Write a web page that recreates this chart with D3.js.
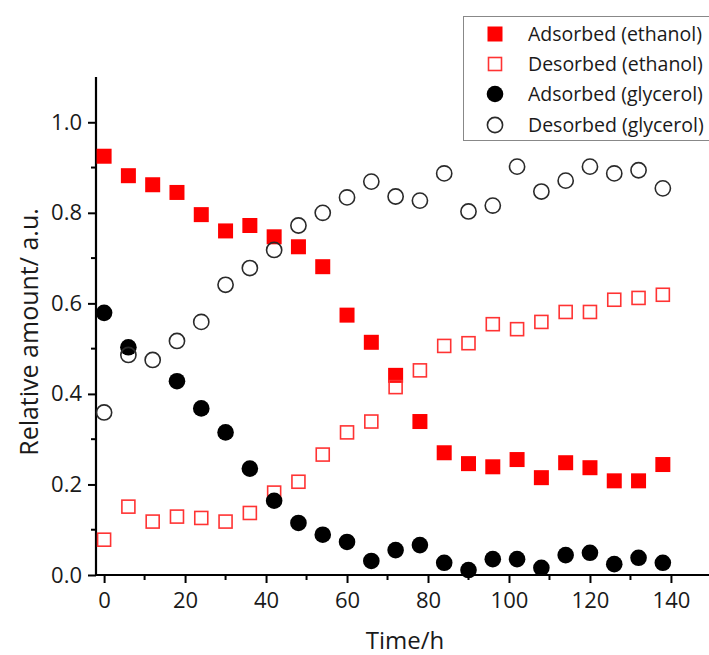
<!DOCTYPE html>
<html>
<head>
<meta charset="utf-8">
<script src="https://cdn.jsdelivr.net/npm/d3@7"></script>
<style>
  body { margin: 0; background: #fff; }
  text { font-family: "Open Sans", sans-serif; fill: #1a1a1a; }
</style>
</head>
<body>
<div class="chart"></div>
<script>
var svgWidth = 709;
var svgHeight = 655;

// time points (h)
var times = [0, 6, 12, 18, 24, 30, 36, 42, 48, 54, 60, 66, 72, 78, 84, 90, 96, 102, 108, 114, 120, 126, 132, 138];

var adsEthanol = [0.925, 0.882, 0.862, 0.845, 0.796, 0.760, 0.772, 0.747, 0.725, 0.681, 0.574, 0.514,
  0.441, 0.339, 0.270, 0.246, 0.239, 0.255, 0.215, 0.248, 0.237, 0.208, 0.208, 0.244];
var desEthanol = [0.078, 0.151, 0.118, 0.129, 0.126, 0.118, 0.137, 0.182, 0.206, 0.266, 0.315, 0.339,
  0.415, 0.452, 0.506, 0.512, 0.554, 0.543, 0.559, 0.581, 0.581, 0.608, 0.612, 0.619];
// no adsorbed glycerol point at 12 h
var adsGlycerol = [0.579, 0.503, null, 0.428, 0.368, 0.315, 0.235, 0.164, 0.115, 0.089, 0.073, 0.031,
  0.055, 0.066, 0.027, 0.011, 0.035, 0.035, 0.016, 0.044, 0.049, 0.024, 0.038, 0.027];
var desGlycerol = [0.359, 0.486, 0.475, 0.517, 0.559, 0.641, 0.678, 0.718, 0.772, 0.800, 0.834, 0.869,
  0.836, 0.827, 0.887, 0.803, 0.816, 0.902, 0.847, 0.871, 0.902, 0.887, 0.894, 0.854];

var seriesNames = ["Adsorbed (ethanol)", "Desorbed (ethanol)", "Adsorbed (glycerol)", "Desorbed (glycerol)"];

var xMajor = [0, 20, 40, 60, 80, 100, 120, 140];
var yMajor = [0.0, 0.2, 0.4, 0.6, 0.8, 1.0];

var svg = d3.select(".chart")
  .append("svg")
  .attr("width", svgWidth)
  .attr("height", svgHeight);

var xScale = d3.scaleLinear().domain([-2, 149.4]).range([96, 709]);
var yScale = d3.scaleLinear().domain([0, 1.1]).range([575, 77]);

var series = [
  { name: seriesNames[0], values: adsEthanol, shape: "square", filled: true },
  { name: seriesNames[1], values: desEthanol, shape: "square", filled: false },
  { name: seriesNames[2], values: adsGlycerol, shape: "circle", filled: true },
  { name: seriesNames[3], values: desGlycerol, shape: "circle", filled: false }
];

function drawMarker(g, s, cx, cy) {
  if (s.shape === "square") {
    if (s.filled) {
      g.append("rect").attr("x", cx - 7.5).attr("y", cy - 7.5)
        .attr("width", 15).attr("height", 15).attr("fill", "#ff0000");
    } else {
      g.append("rect").attr("x", cx - 6.5).attr("y", cy - 6.5)
        .attr("width", 13).attr("height", 13).attr("fill", "none")
        .attr("stroke", "#ff3333").attr("stroke-width", 1.6);
    }
  } else {
    if (s.filled) {
      g.append("circle").attr("cx", cx).attr("cy", cy).attr("r", 8.3).attr("fill", "#000");
    } else {
      g.append("circle").attr("cx", cx).attr("cy", cy).attr("r", 7.6)
        .attr("fill", "none").attr("stroke", "#2a2a2a").attr("stroke-width", 1.6);
    }
  }
}

// axes
var xAxis = d3.axisBottom(xScale).tickValues(xMajor).tickSize(8).tickFormat(d3.format("d"));
var yAxis = d3.axisLeft(yScale).tickValues(yMajor).tickSize(8).tickFormat(d3.format(".1f"));

var xG = svg.append("g").attr("transform", "translate(0,575)").call(xAxis);
var yG = svg.append("g").attr("transform", "translate(96,0)").call(yAxis);

[xG, yG].forEach(function(g) {
  g.select(".domain").remove();
  g.selectAll(".tick line").attr("stroke", "#000").attr("stroke-width", 2);
  g.selectAll(".tick text").style("font-size", "22px").attr("fill", "#1a1a1a");
});
xG.selectAll(".tick text").attr("dy", "0.71em").attr("y", 17);
yG.selectAll(".tick text").attr("x", -14);

// minor ticks
var xMinor = d3.range(10, 150, 20);
var yMinor = d3.range(0.1, 1.1, 0.2);
svg.append("g").selectAll("line").data(xMinor).join("line")
  .attr("x1", d => xScale(d)).attr("x2", d => xScale(d))
  .attr("y1", 575).attr("y2", 580)
  .attr("stroke", "#000").attr("stroke-width", 2);
svg.append("g").selectAll("line").data(yMinor).join("line")
  .attr("x1", 91).attr("x2", 96)
  .attr("y1", d => yScale(d)).attr("y2", d => yScale(d))
  .attr("stroke", "#000").attr("stroke-width", 2);

// axis lines
svg.append("line").attr("x1", 96).attr("x2", svgWidth).attr("y1", 575).attr("y2", 575)
  .attr("stroke", "#000").attr("stroke-width", 2.2);
svg.append("line").attr("x1", 96).attr("x2", 96).attr("y1", yScale(1.1)).attr("y2", 576)
  .attr("stroke", "#000").attr("stroke-width", 2.2);

// data points
var plot = svg.append("g");
series.forEach(function(s) {
  var g = plot.append("g");
  times.forEach(function(t, i) {
    if (s.values[i] == null) return;
    drawMarker(g, s, xScale(t), yScale(s.values[i]));
  });
});

// axis titles
svg.append("text")
  .attr("x", 405).attr("y", 649)
  .attr("text-anchor", "middle")
  .style("font-size", "24px")
  .text("Time/h");

svg.append("text")
  .attr("transform", "translate(38,332) rotate(-90)")
  .attr("text-anchor", "middle")
  .style("font-size", "25px")
  .text("Relative amount/ a.u.");

// legend
var legend = svg.append("g");
legend.append("rect")
  .attr("x", 463.5).attr("y", 16.5).attr("width", 260).attr("height", 124)
  .attr("fill", "#fff").attr("stroke", "#888").attr("stroke-width", 1);

var rowY = [34, 64, 94, 125];
series.forEach(function(s, i) {
  var g = legend.append("g");
  drawMarker(g, s, 495, rowY[i]);
  legend.append("text")
    .attr("x", 528).attr("y", rowY[i])
    .attr("dy", "0.35em")
    .style("font-size", "19.5px")
    .text(s.name);
});
</script>
</body>
</html>
